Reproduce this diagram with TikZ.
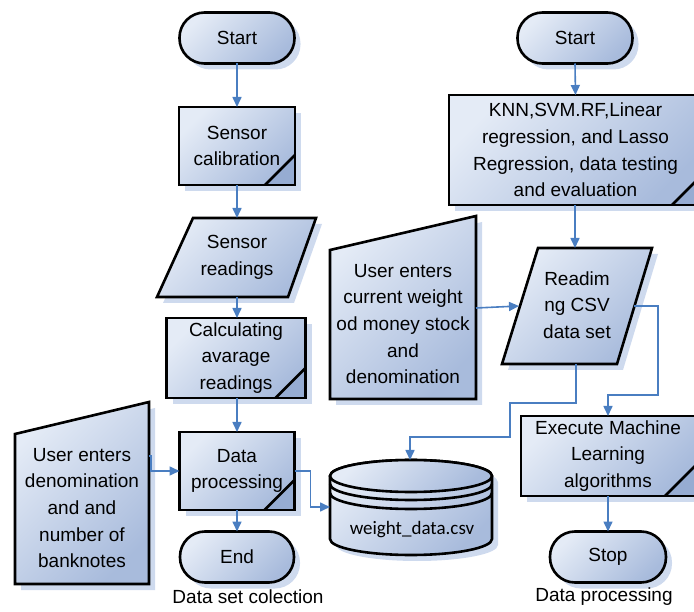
\documentclass[tikz,border=0pt]{standalone}
\usepackage{fontspec}
\setmainfont{Liberation Sans}
\newfontfamily\csvfont{Carlito}
\usetikzlibrary{arrows.meta,shadows}
\definecolor{boxlight}{RGB}{228,235,246}
\definecolor{boxdark}{RGB}{168,187,220}
\definecolor{shadowc}{RGB}{206,218,238}
\definecolor{linkc}{RGB}{74,126,193}
\definecolor{foldc}{RGB}{150,172,210}
\begin{document}
\begin{tikzpicture}[x=1pt,y=-1pt,
  every node/.style={font=\fontsize{19}{26.7}\selectfont, align=center, inner sep=0pt, outer sep=0pt},
  shapefill/.style={draw=black, line width=2.6pt, line join=miter, top color=boxlight, bottom color=boxdark, shading angle=45},
  boxshadow/.style={drop shadow={shadow xshift=6pt, shadow yshift=-6pt, fill=shadowc, opacity=1}},
  term/.style={shapefill, boxshadow, rectangle, rounded corners=25pt, minimum height=51pt},
  fold/.style={path picture={
    \fill[foldc] ([xshift=-30pt]path picture bounding box.south east)
      -- ([yshift=30pt]path picture bounding box.south east)
      -- (path picture bounding box.south east) -- cycle;
    \draw[line width=2.6pt] ([xshift=-30pt]path picture bounding box.south east)
      -- ([yshift=30pt]path picture bounding box.south east);}},
  proc/.style={shapefill, boxshadow, rectangle, fold},
  link/.style={draw=linkc, line width=1.6pt, -{Triangle[length=10pt,width=9pt]}},
]
\useasboundingbox (0,0) rectangle (694,612);

% ---------------- left column: data set collection ----------------
\node[term, minimum width=115pt] (startL) at (237,38) {Start};
\node[proc, minimum width=116pt, minimum height=78pt] (calib) at (237,146) {Sensor\\calibration};

% data shape (sensor readings)
\path[shapefill, boxshadow] (193,218) -- (316,218) -- (288,297) -- (157,297) -- cycle;
\node (sread) at (237,257) {Sensor\\readings};
\coordinate (sr-top) at (237,218);
\coordinate (sr-bot) at (237,297);

\node[proc, minimum width=139pt, minimum height=80pt] (calc) at (236,358) {Calculating\\avarage\\readings};
\node[proc, minimum width=115pt, minimum height=78pt] (dproc) at (237,471) {Data\\processing};
\node[term, minimum width=114pt] (endL) at (237,557) {End};

% manual input (denomination and banknotes)
\path[shapefill, boxshadow] (15,434) -- (149,402) -- (149,584) -- (15,584) -- cycle;
\node (userL) at (82,508) {User enters\\denomination\\and and\\number of\\banknotes};
\coordinate (uL-out) at (149,456);

\node (lblL) at (248,597) {Data set colection};

% ---------------- storage: weight_data.csv ----------------
\path[shapefill, boxshadow] (330,476) -- (330,539)
  arc[start angle=180, end angle=360, x radius=81pt, y radius=16pt]
  -- (492,476)
  arc[start angle=0, end angle=180, x radius=81pt, y radius=16pt] -- cycle;
\path[shapefill] (411,476) ellipse [x radius=81pt, y radius=16pt];
\draw[line width=2.6pt] (330,484) arc[start angle=180, end angle=360, x radius=81pt, y radius=16pt];
\draw[line width=2.6pt] (330,493) arc[start angle=180, end angle=360, x radius=81pt, y radius=16pt];
\node[font=\csvfont\fontsize{19}{23}\selectfont] (csv) at (412,530) {weight\_data.csv};
\coordinate (cyl-w) at (330,507);
\coordinate (cyl-n) at (410,460);

% ---------------- right column: data processing ----------------
\node[term, minimum width=115pt] (startR) at (575,38) {Start};
\node[proc, minimum width=253pt, minimum height=110pt] (knn) at (575.5,150)
  {KNN,SVM.RF,Linear\\regression, and Lasso\\Regression, data testing\\and evaluation};

% manual input (current weight)
\path[shapefill, boxshadow] (330,250) -- (476,216) -- (476,399) -- (330,399) -- cycle;
\node (userR) at (403,324) {User enters\\current weight\\od money stock\\and\\denomination};
\coordinate (uR-out) at (476,308);

% data shape (CSV data set)
\path[shapefill, boxshadow] (538,248) -- (652,248) -- (617,364) -- (502,364) -- cycle;
\node (readim) at (577,305) {Readim\\ng CSV\\data set};
\coordinate (rd-top) at (575,248);
\coordinate (rd-w) at (519,306);
\coordinate (rd-e) at (634,306);
\coordinate (rd-bot) at (576,364);

\node[proc, minimum width=174pt, minimum height=80pt] (exec) at (608,456) {Execute Machine\\Learning\\algorithms};
\node[term, minimum width=116pt] (stop) at (608,557) {Stop};

\node (lblR) at (604,597) {Data processing};

% ---------------- connectors ----------------
\draw[link] (startL.south) -- (calib.north);
\draw[link] (calib.south) -- (sr-top);
\draw[link] (sr-bot) -- (sr-bot |- calc.north);
\draw[link] (calc.south -| dproc.north) -- (dproc.north);
\draw[link] (dproc.south) -- (endL.north);
\draw[link] (uL-out) -- ++(2,0) |- (dproc.west);
\draw[link] (dproc.east) -- ++(16,0) |- (cyl-w);

\draw[link] (startR.south) -- (knn.north);
\draw[link] (knn.south -| rd-top) -- (rd-top);
\draw[link] (uR-out) -- (rd-w);
\draw[link] (rd-bot) -- ++(0,39) -| ++(-66,34) -| (cyl-n);
\draw[link] (rd-e) -| ++(24,89) -| (exec.north);
\draw[link] (exec.south) -- (stop.north);
\end{tikzpicture}
\end{document}
